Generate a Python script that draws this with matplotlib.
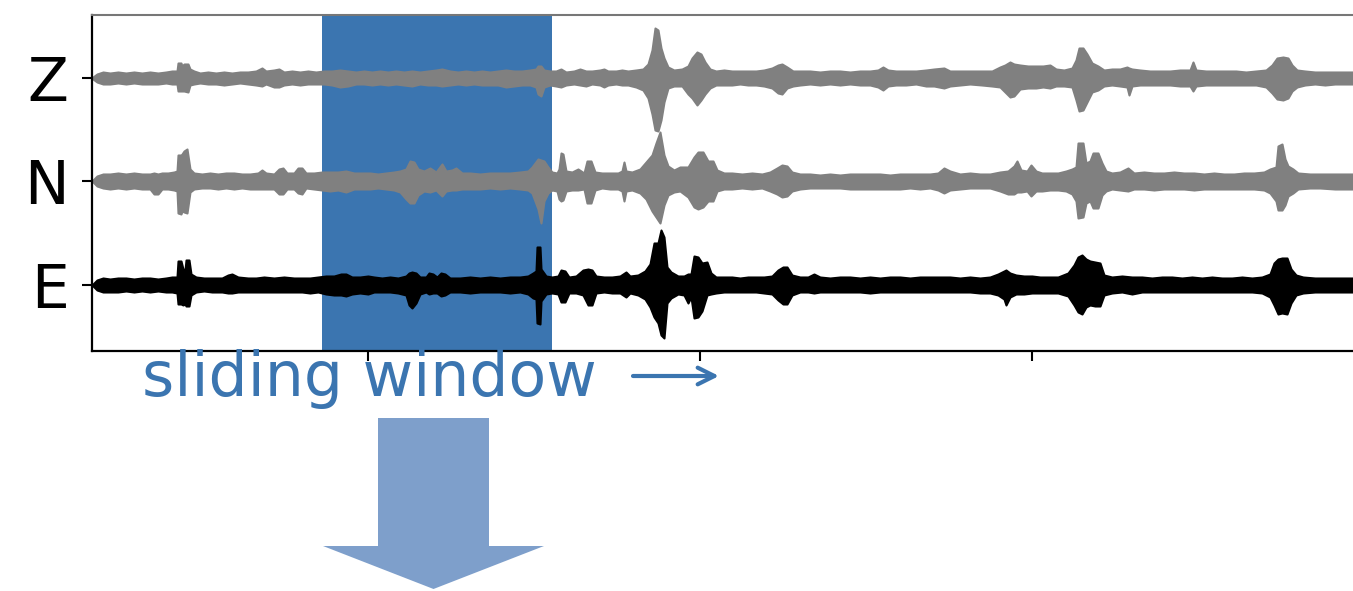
import matplotlib
matplotlib.use('Agg')
import matplotlib.pyplot as plt
from matplotlib.patches import FancyArrow

channels = ['E', 'N', 'Z']
offsets = [0, 104, 207]
tick_x = [368, 700, 1032]
window = [322, 552]

# envelope of each trace: (position, height above, depth below)
z_env = [(93,1,1),(97,4,4),(103,6,6),(110,5,6),(118,6,5),(126,5,6),(134,6,5),(142,5,6),(150,6,6),(158,5,6),(166,6,5),(172,7,6),(177,7,6),
 (178,15,13),(181,15,13),(182,12,13),(184,14,13),(188,14,14),(190,9,7),(194,7,6),(200,5,5),(208,6,6),(216,5,6),(224,6,7),(232,5,6),(240,6,5),(248,6,6),
 (256,7,7),(262,10,8),(266,7,6),(274,8,9),(279,9,9),(284,6,7),(292,7,6),(300,6,7),(308,7,6),(316,6,6),(324,7,6),(332,7,7),(340,8,9),(348,7,8),(356,6,6),
 (364,7,6),(372,6,7),(380,7,6),(388,6,7),(396,7,6),(404,6,7),(412,7,8),(420,6,6),(428,7,7),(436,8,7),(442,9,8),(450,7,7),(458,6,6),(466,7,7),(474,6,6),
 (482,7,7),(490,6,7),(498,7,7),(506,8,9),(514,7,8),(522,7,7),(530,8,7),(536,9,9),(538,12,16),(541,12,18),(544,8,9),(550,7,7),(556,7,8),(561,9,9),(566,6,7),
 (574,7,6),(580,9,7),(586,7,8),(592,7,6),(600,8,7),(604,9,9),(608,7,7),(616,7,6),(622,8,7),(628,7,7),(636,8,9),(643,9,12),(648,14,20),(652,28,36),(655,50,52),
 (658,48,53),(661,30,42),(664,20,24),(668,11,10),(674,8,8),(682,9,8),(688,12,16),(692,20,20),(697,26,27),(701,24,22),(705,16,16),(710,9,10),(716,7,7),(724,8,7),
 (732,7,7),(740,7,6),(748,7,7),(756,7,7),(764,8,8),(772,10,10),(778,13,15),(782,14,16),(787,11,10),(793,7,8),(800,7,7),(810,7,6),(820,6,7),(830,7,6),(840,7,7),
 (850,6,6),(860,7,7),(870,7,7),(878,8,9),(883,11,12),(888,8,8),(896,7,7),(906,7,7),(916,7,6),(926,8,8),(934,9,8),(944,10,10),(950,7,8),(960,7,7),(970,7,6),
 (982,7,7),(992,7,8),(1000,11,9),(1005,13,14),(1010,16,19),(1014,14,18),(1020,13,11),(1028,12,10),(1036,12,10),(1043,12,9),(1050,13,10),(1056,9,8),(1064,8,8),
 (1072,10,9),(1076,18,22),(1079,30,33),(1083,30,32),(1087,24,24),(1092,15,14),(1098,12,12),(1104,8,8),(1112,9,7),(1120,9,8),(1127,11,9),(1129,10,17),(1132,9,8),
 (1140,8,7),(1150,7,7),(1160,7,7),(1170,7,7),(1180,8,8),(1190,8,8),(1193,16,13),(1196,8,8),(1206,7,7),(1216,7,7),(1226,7,7),(1236,7,7),(1246,6,7),(1256,7,7),
 (1266,8,9),(1272,13,15),(1277,20,21),(1283,21,22),(1288,20,20),(1292,13,13),(1297,8,9),(1305,7,7),(1315,6,6),(1325,6,7),(1335,6,6),(1353,6,6)]

n_env = [(93,1,1),(97,5,5),(103,7,7),(110,7,8),(118,8,7),(126,7,8),(134,8,7),(142,7,8),(150,7,8),(154,8,13),(158,7,13),(162,8,8),(168,8,8),(174,9,9),(177,10,10),
 (178,26,32),(181,26,33),(182,27,30),(184,30,31),(187,32,32),(190,12,11),(194,8,8),(202,7,7),(210,8,7),(218,7,8),(226,8,7),(234,8,8),(242,7,7),(250,7,8),(258,8,8),
 (262,11,8),(266,8,8),(274,7,8),(279,12,13),(283,13,13),(287,8,8),(294,8,8),(298,13,12),(302,13,13),(306,8,7),(314,8,8),(322,9,9),(330,9,10),(338,9,9),(346,10,11),
 (354,8,8),(362,8,8),(370,8,8),(378,7,7),(386,8,8),(394,9,9),(400,10,11),(406,12,18),(410,20,22),(414,19,22),(418,12,14),(424,10,10),(430,13,11),(436,9,9),(442,17,15),
 (446,10,10),(452,11,9),(456,13,9),(462,8,8),(470,8,8),(480,7,8),(490,8,7),(500,8,8),(510,8,7),(520,9,8),(528,10,9),(532,14,12),(538,22,28),(541,21,42),(544,20,20),
 (548,14,12),(552,9,9),(557,8,10),(559,12,18),(561,28,20),(563,27,19),(566,10,10),(572,9,9),(578,12,9),(584,8,8),(587,20,22),(591,20,22),(595,9,9),(602,8,7),(610,8,8),
 (618,8,8),(622,10,10),(624,19,20),(626,10,10),(632,9,9),(640,12,12),(646,19,18),(652,26,30),(656,38,36),(660,49,42),(664,26,24),(668,15,14),(674,11,11),(680,14,10),
 (688,14,16),(694,24,26),(698,29,28),(703,29,26),(708,20,20),(713,20,20),(717,11,10),(724,8,8),(732,8,8),(742,7,7),(752,8,8),(762,7,7),(770,9,10),(777,13,13),(782,16,16),
 (787,15,15),(792,9,10),(800,7,8),(810,7,7),(820,6,7),(830,7,7),(840,6,7),(850,7,8),(860,7,8),(870,7,8),(880,7,8),(890,6,8),(900,7,8),(910,7,7),(920,7,8),(930,7,7),(938,8,9),
 (944,13,12),(950,10,9),(960,7,8),(970,8,7),(980,7,7),(990,7,7),(1000,9,10),(1008,10,13),(1014,15,13),(1017,20,11),(1021,11,11),(1027,10,10),(1031,16,15),(1036,10,10),
 (1042,8,10),(1050,8,9),(1058,8,9),(1066,10,10),(1072,12,13),(1076,14,20),(1078,38,37),(1083,38,36),(1086,18,22),(1090,20,20),(1093,28,27),(1098,28,27),(1102,18,14),
 (1106,10,10),(1112,8,8),(1120,9,9),(1128,13,10),(1134,8,8),(1144,9,8),(1154,8,9),(1164,8,8),(1174,9,8),(1184,8,8),(1194,8,9),(1204,7,8),(1214,8,8),(1224,7,8),(1234,7,8),
 (1244,8,8),(1254,8,8),(1264,9,9),(1270,12,12),(1276,14,20),(1278,35,29),(1282,37,29),(1285,22,24),(1288,15,15),(1293,12,12),(1298,8,8),(1310,7,7),(1320,7,7),(1335,7,8),(1353,7,8)]

e_env = [(93,1,1),(97,5,5),(103,7,7),(110,6,7),(118,7,7),(126,7,6),(134,6,7),(142,7,6),(150,7,7),(158,6,6),(166,7,7),(172,8,7),(177,8,8),
 (178,24,19),(181,24,19),(183,16,20),(185,15,19),(186,25,21),(189,25,21),(191,11,10),(196,8,7),(204,7,6),(212,7,7),(222,7,7),(228,10,8),(232,11,8),(238,8,7),(248,7,7),
 (256,7,7),(264,8,7),(274,7,7),(284,8,7),(294,7,7),(302,7,7),(310,7,8),(318,8,7),(326,9,9),(334,9,10),(341,11,10),(346,11,11),(352,8,9),(360,8,8),(368,9,9),(374,8,7),
 (382,7,7),(390,8,7),(398,7,8),(406,9,10),(409,12,20),(412,13,23),(416,12,18),(420,8,9),(426,8,7),(429,12,9),(433,11,8),(437,8,8),(441,12,11),(445,11,10),(450,7,7),
 (460,7,7),(470,8,8),(480,7,7),(490,8,7),(500,7,7),(510,8,8),(520,8,7),(528,9,9),(533,12,13),(536,14,14),(537,38,38),(540,38,39),(541,16,16),(546,9,9),(552,8,8),
 (558,9,9),(561,15,17),(565,14,17),(569,8,8),(576,9,8),(583,15,10),(588,16,20),(592,15,20),(596,9,8),(604,8,7),(612,8,8),(620,9,8),(626,13,12),(630,9,8),(638,10,10),
 (645,14,14),(650,21,22),(654,42,32),(658,42,38),(661,55,50),(664,48,53),(667,18,18),(671,13,13),(678,9,9),(684,9,10),(688,11,18),(691,11,12),(694,29,33),(698,28,32),
 (702,22,26),(707,23,10),(711,12,9),(716,8,8),(724,8,7),(732,8,7),(740,7,7),(748,8,7),(756,8,7),(764,8,8),(772,9,9),(778,15,15),(783,18,19),(787,18,19),(792,10,10),
 (800,8,7),(808,8,7),(814,11,8),(820,8,7),(830,7,7),(840,8,7),(850,8,7),(860,7,7),(870,8,8),(880,7,7),(890,8,7),(900,8,7),(910,7,7),(920,8,7),(930,8,7),(940,8,7),
 (950,8,7),(960,7,7),(970,8,7),(980,7,8),(990,8,8),(998,11,10),(1004,14,14),(1006,15,20),(1010,12,12),(1016,10,9),(1024,9,9),(1032,9,8),(1040,8,8),(1050,8,8),(1058,8,8),
 (1068,12,11),(1074,20,20),(1078,28,27),(1082,30,29),(1086,26,22),(1090,24,20),(1095,23,21),(1100,22,21),(1104,10,10),(1112,8,8),(1122,9,7),(1132,8,9),(1142,8,7),(1152,7,7),
 (1162,8,7),(1172,8,7),(1182,7,7),(1192,8,7),(1202,7,7),(1212,8,7),(1222,7,7),(1232,7,7),(1242,8,7),(1252,7,7),(1262,8,8),(1270,11,12),(1274,22,20),(1278,26,29),(1282,27,28),
 (1287,27,29),(1291,16,18),(1296,10,10),(1303,8,8),(1315,7,7),(1325,7,7),(1335,7,7),(1353,7,7)]

traces = [(e_env, 'black'), (n_env, 'gray'), (z_env, 'gray')]

blue = '#3b75b0'
light_blue = '#7e9fcb'

fig = plt.figure(figsize=(13.53, 5.91), dpi=100)
ax = fig.add_axes([92 / 1353, 1 - 351 / 591, (1353 - 92) / 1353, 336 / 591])
ax.set_xlim(92, 1353)
ax.set_ylim(-66, 270)

ax.axvspan(window[0], window[1], color=blue, lw=0, zorder=1)

for off, (env, col) in zip(offsets, traces):
    xs = [p[0] for p in env]
    top = [off + p[1] for p in env]
    bot = [off - p[2] for p in env]
    ax.fill_between(xs, bot, top, color=col, lw=1.5, zorder=2)

ax.set_xticks(tick_x)
ax.set_xticklabels([])
ax.set_yticks(offsets)
ax.set_yticklabels(channels, fontsize=43)
ax.tick_params(axis='both', length=7, width=1.5)
ax.tick_params(axis='y', pad=10)
for s in ['left', 'bottom']:
    ax.spines[s].set_linewidth(1.6)
ax.spines['top'].set_linewidth(1.5)
ax.spines['top'].set_color('#777777')
ax.spines['right'].set_visible(False)

# caption and arrows below the axes
ax.text(142, -94, 'sliding window', fontsize=44.5, color=blue, ha='left', va='center')
ax.annotate('', xy=(719, -91), xytext=(633, -91), annotation_clip=False,
            arrowprops=dict(arrowstyle='->', color=blue, lw=3, mutation_scale=30, shrinkA=0, shrinkB=0))
ax.add_patch(FancyArrow(433.5, -133, 0, -171, width=111, head_width=221, head_length=43,
                        length_includes_head=True, color=light_blue, lw=0, clip_on=False))

fig.savefig('out.png', dpi=100)
